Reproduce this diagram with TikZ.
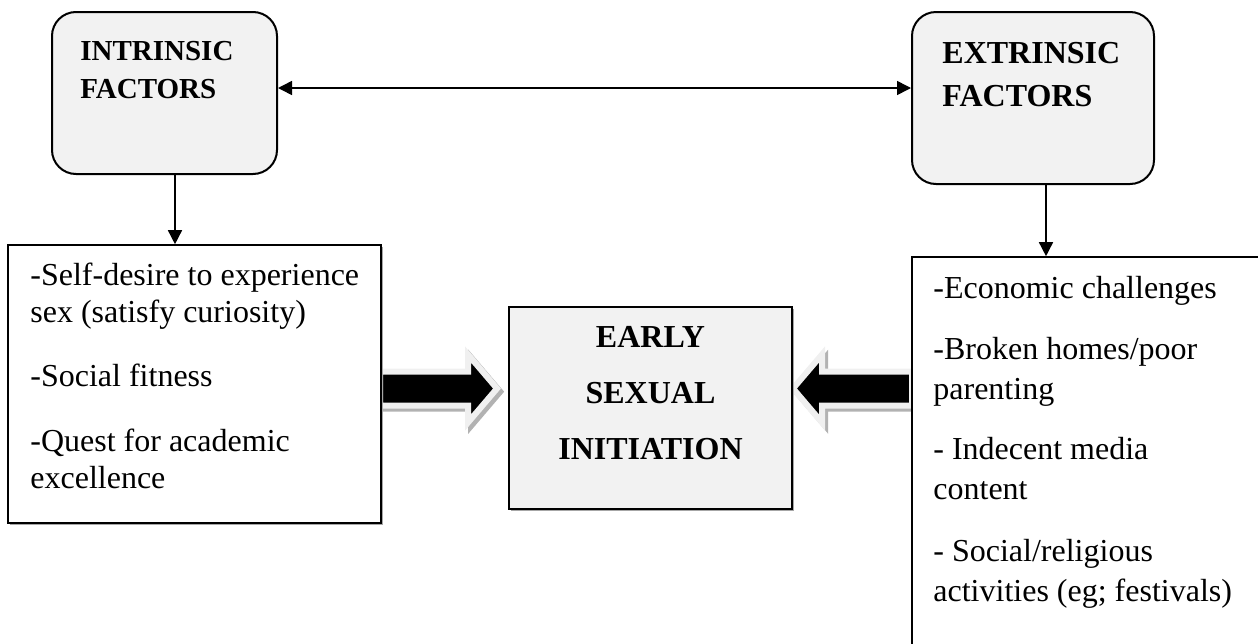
\documentclass[tikz,border=0pt]{standalone}
\usepackage{fontspec}
\setmainfont{Liberation Serif}
\usetikzlibrary{arrows.meta,shadows,backgrounds}

\begin{document}
\begin{tikzpicture}[x=0.5pt,y=-0.5pt,>={Triangle[length=7pt,width=7pt]},
  factorbox/.style={draw,line width=1pt,rounded corners=12pt,fill=black!5,inner sep=0pt},
  listbox/.style={draw,line width=0.8pt,fill=white,inner sep=0pt,
    drop shadow={shadow xshift=0.8pt,shadow yshift=-0.8pt,fill=black!35,opacity=1}},
  centrebox/.style={draw,line width=1pt,fill=black!5,inner sep=0pt,
    drop shadow={shadow xshift=0.8pt,shadow yshift=-0.8pt,fill=black!35,opacity=1}},
  headtext/.style={anchor=base west,inner sep=0pt,text width=150pt,align=flush left},
  listtext/.style={anchor=base west,inner sep=0pt,text width=175pt,align=flush left},
  link/.style={line width=0.75pt},
  blockarrow/.style={fill=black,draw=black!6,line width=3pt,line join=miter,
    drop shadow={shadow xshift=1.6pt,shadow yshift=-1.6pt,fill=black!30,draw=black!30,line width=3pt,opacity=1}}
]
\useasboundingbox (0,0) rectangle (1258,643);
\clip (0,0) rectangle (1258,643);
% -- factor boxes
\node[factorbox,minimum width=112.5pt,minimum height=81pt] (intr) at (164.5,93) {};
\node[factorbox,minimum width=121pt,minimum height=86pt] (extr) at (1033,98) {};
\node[headtext,font=\bfseries\fontsize{14.5}{19}\selectfont] (intrhead) at (80,60) {INTRINSIC\\FACTORS};
\node[headtext,font=\bfseries\fontsize{16}{21.5}\selectfont] (extrhead) at (942,63) {EXTRINSIC\\FACTORS};
% -- lists
\node[listbox,minimum width=186.5pt,minimum height=139pt] (intrlist) at (194.5,384) {};
\node[listbox,minimum width=194pt,minimum height=221.5pt] (extrlist) at (1106,478.5) {};
\node[listtext,font=\fontsize{16}{18.5}\selectfont] (intrtext) at (30,285)
  {-Self-desire to experience\\sex (satisfy curiosity)\\[13.5pt]-Social fitness\\[14pt]-Quest for academic\\excellence};
\node[listtext,font=\fontsize{16}{20}\selectfont] (extrtext) at (933,298)
  {-Economic challenges\\[10.5pt]-Broken homes/poor\\parenting\\[10pt]- Indecent media\\content\\[11pt]- Social/religious\\activities (eg; festivals)};
% -- outcome
\node[centrebox,minimum width=141.5pt,minimum height=101pt] (early) at (650.5,408) {};
\node[anchor=base,inner sep=0pt,text width=140pt,align=center,font=\bfseries\fontsize{16}{28}\selectfont] (earlytext) at (650.5,347)
  {EARLY\\SEXUAL\\INITIATION};
% -- draw links
\draw[link,<->] ([yshift=2.5pt]intr.east) -- ([yshift=2.5pt]intr.east -| extr.west);
\draw[link,->] ([xshift=5.25pt]intr.south) -- ([xshift=5.25pt]intr.south |- intrlist.north);
\draw[link,->] ([xshift=6.5pt]extr.south) -- ([xshift=6.5pt]extr.south |- extrlist.north);
% -- draw block arrows
\begin{scope}[on background layer]
\coordinate (ltail) at (380,388.5);
\coordinate (rtail) at (912,388.5);
\draw[blockarrow] (ltail) ++(0,-17) -- ++(88,0) -- ++(0,-17) -- ++(29,34) -- ++(-29,34) -- ++(0,-17) -- ++(-88,0) -- cycle;
\draw[blockarrow] (rtail) ++(0,-17) -- ++(-90,0) -- ++(0,-17) -- ++(-29,34) -- ++(29,34) -- ++(0,-17) -- ++(90,0) -- cycle;
\end{scope}
\end{tikzpicture}
\end{document}
